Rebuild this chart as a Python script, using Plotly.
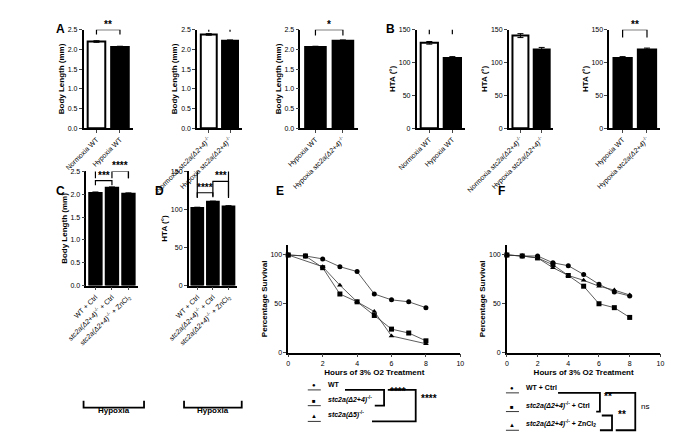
import plotly.graph_objects as go

W, H = 675, 442
D24 = "<i>stc2a(Δ2+4)</i><sup>-/-</sup>"
D5 = "<i>stc2a(Δ5)</i><sup>-/-</sup>"

# ---- bar data ----
a1_cats = ["Normoxia WT", "Hypoxia WT"]
a1_vals = [2.20, 2.06]
a1_err = [0.02, 0.02]
a2_cats = ["Normoxia " + D24, "Hypoxia " + D24]
a2_vals = [2.38, 2.22]
a2_err = [0.02, 0.02]
a3_cats = ["Hypoxia WT", "Hypoxia " + D24]
a3_vals = [2.06, 2.22]
a3_err = [0.02, 0.02]
b1_vals = [130, 107]
b1_err = [2, 2]
b2_vals = [141, 120]
b2_err = [3, 3]
b3_vals = [107, 120]
b3_err = [2, 2]
cd_cats = ["WT + Ctrl", D24 + " + Ctrl", D24 + " + ZnCl<sub>2</sub>"]
c_vals = [2.03, 2.14, 2.01]
c_err = [0.02, 0.02, 0.02]
d_vals = [102, 110, 104]
d_err = [1, 1, 1]

# ---- survival data ----
e_wt_h = [0, 1, 2, 3, 4, 5, 6, 7, 8]
e_wt = [100, 99, 96, 88, 83, 60, 54, 52, 46]
e_d24_h = [0, 1, 2, 3, 4, 5, 6, 7, 8]
e_d24 = [100, 99, 87, 60, 52, 38, 24, 20, 12]
e_d5_h = [0, 2, 3, 4, 5, 6, 8]
e_d5 = [100, 88, 69, 52, 42, 17, 9]
f_h = [0, 1, 2, 3, 4, 5, 6, 7, 8]
f_wt = [100, 99, 99, 92, 89, 80, 70, 62, 58]
f_ctrl = [100, 99, 97, 90, 79, 68, 50, 46, 36]
f_zn = [100, 99, 97, 87, 79, 74, 68, 64, 59]

FONT = "Arial, Liberation Sans, sans-serif"
fig = go.Figure()
layout = {}
shapes = []
ann = []


def px(x):
    return x / W


def py(y):
    return 1 - y / H


def add_axes(i, xr, yr, ytitle, yrange, ydtick):
    layout[f"xaxis{i}"] = dict(domain=[px(xr[0]), px(xr[1])], anchor=f"y{i}",
                               showline=True, linecolor="black", linewidth=1.5,
                               ticks="outside", ticklen=3, tickfont=dict(size=7, family=FONT),
                               showgrid=False, zeroline=False)
    layout[f"yaxis{i}"] = dict(domain=[py(yr[1]), py(yr[0])], anchor=f"x{i}",
                               range=yrange, dtick=ydtick, showline=True, linecolor="black",
                               linewidth=1.5, ticks="outside", ticklen=3,
                               tickfont=dict(size=7, family=FONT), showgrid=False, zeroline=False,
                               title=dict(text="<b>" + ytitle + "</b>", font=dict(size=8), standoff=2))


def bars(i, cats, vals, err, fills):
    fig.add_trace(go.Bar(x=list(range(len(cats))), y=vals, xaxis=f"x{i}", yaxis=f"y{i}",
                         marker=dict(color=fills, line=dict(color="black", width=2)),
                         error_y=dict(type="data", array=err, color="black", thickness=1, width=3),
                         width=0.75, showlegend=False))
    layout[f"xaxis{i}"].update(tickmode="array", tickvals=list(range(len(cats))), ticktext=cats,
                               tickangle=-45, range=[-0.55, len(cats) - 0.45])


def bracket(i, x0, x1, y, drop, text, tsize=10):
    xr, yr = f"x{i}", f"y{i}"
    shapes.append(dict(type="path", xref=xr, yref=yr,
                       path=f"M {x0} {y - drop} L {x0} {y} L {x1} {y} L {x1} {y - drop}",
                       line=dict(color="black", width=1.2)))
    ann.append(dict(x=(x0 + x1) / 2, y=y, xref=xr, yref=yr,
                    text="<b>" + text + "</b>" if text != "ns" else text,
                    showarrow=False, yanchor="bottom", font=dict(size=tsize), yshift=-2))


top = (18, 118)
specs = [
    (1, (35, 88), top, "Body Length (mm)", [0, 2.5], 0.5, a1_cats, a1_vals, a1_err, ["white", "black"]),
    (2, (157, 205), top, "Body Length (mm)", [0, 2.5], 0.5, a2_cats, a2_vals, a2_err, ["white", "black"]),
    (3, (268, 330), top, "Body Length (mm)", [0, 2.5], 0.5, a3_cats, a3_vals, a3_err, ["black", "black"]),
    (4, (393, 445), top, "HTA (°)", [0, 150], 50, a1_cats, b1_vals, b1_err, ["white", "black"]),
    (5, (492, 540), top, "HTA (°)", [0, 150], 50, a2_cats, b2_vals, b2_err, ["white", "black"]),
    (6, (600, 655), top, "HTA (°)", [0, 150], 50, a3_cats, b3_vals, b3_err, ["black", "black"]),
    (7, (38, 93), (162, 278), "Body Length (mm)", [0, 2.5], 0.5, cd_cats, c_vals, c_err, ["black"] * 3),
    (8, (148, 200), (162, 278), "HTA (°)", [0, 150], 50, cd_cats, d_vals, d_err, ["black"] * 3),
]
for i, xr, yr, t, rng, dt, cats, vals, err, fills in specs:
    add_axes(i, xr, yr, t, rng, dt)
    bars(i, cats, vals, err, fills)
    if rng[1] < 10:
        layout[f"yaxis{i}"]["tickformat"] = ".1f"

bracket(1, 0, 1, 2.5, 0.12, "**")
bracket(2, 0, 1, 2.6, 0.15, "***")
bracket(3, 0, 1, 2.5, 0.15, "*")
bracket(4, 0, 1, 155, 12, "****")
bracket(5, 0, 1, 165, 12, "****")
bracket(6, 0, 1, 150, 12, "**")
bracket(7, 0, 1, 2.3, 0.1, "***")
bracket(7, 1, 2, 2.5, 0.15, "****")
bracket(7, 0, 2, 2.75, 0.4, "ns")
bracket(8, 0, 1, 122, 6, "****")
bracket(8, 1, 2, 137, 20, "***")
bracket(8, 0, 2, 155, 40, "ns")

# ---- survival panels ----
for i, xr in ((9, (255, 440)), (10, (490, 655))):
    add_axes(i, xr, (237, 346), "Percentage Survival", [0, 110], 50)
    layout[f"xaxis{i}"].update(range=[0, 10], dtick=2,
                               title=dict(text="<b>Hours of 3% O2 Treatment</b>", font=dict(size=8), standoff=4))
    layout[f"yaxis{i}"]["tickvals"] = [0, 50, 100]


def line(i, h, v, sym):
    fig.add_trace(go.Scatter(x=h, y=v, xaxis=f"x{i}", yaxis=f"y{i}", mode="lines+markers",
                             line=dict(color="#333", width=0.8),
                             marker=dict(symbol=sym, size=5, color="black"), showlegend=False,
                             cliponaxis=False))


line(9, e_wt_h, e_wt, "circle")
line(9, e_d24_h, e_d24, "square")
line(9, e_d5_h, e_d5, "triangle-up")
line(10, f_h, f_wt, "circle")
line(10, f_h, f_ctrl, "square")
line(10, f_h, f_zn, "triangle-up")


def pline(pts, w=1.8):
    path = "M " + " L ".join(f"{px(x)} {py(y)}" for x, y in pts)
    shapes.append(dict(type="path", xref="paper", yref="paper", path=path, line=dict(color="black", width=w)))


def ptext(x, y, t, size=8, anchor="left"):
    ann.append(dict(x=px(x), y=py(y), xref="paper", yref="paper", text=t, showarrow=False,
                    xanchor=anchor, font=dict(size=size, family=FONT)))


def legend_key(x, y, glyph):
    shapes.append(dict(type="line", xref="paper", yref="paper", x0=px(x - 7), x1=px(x + 7),
                       y0=py(y), y1=py(y), line=dict(color="black", width=0.8)))
    ptext(x, y, glyph, 6, "center")


# hypoxia bracket under C and D
for x0, x1 in ((35, 100), (143, 205)):
    pline([(x0, 395), (x0, 402), (x1, 402), (x1, 395)])
    ptext((x0 + x1) / 2, 412, "<b>Hypoxia</b>", 8, "center")

# E legend
for y, g in ((384, "●"), (400, "■"), (416, "▲")):
    legend_key(283, y, g)
ptext(296, 384, "<b>WT</b>", 7)
ptext(296, 400, "<b>" + D24 + "</b>", 7)
ptext(296, 416, "<b>" + D5 + "</b>", 7)
pline([(316, 384), (358, 384), (358, 400), (348, 400)])
ptext(362, 393, "<b>****</b>", 10)
pline([(362, 384), (392, 384), (392, 416), (345, 416)])
ptext(396, 400, "<b>****</b>", 10)

# F legend
for y, g in ((387, "●"), (406, "■"), (425, "▲")):
    legend_key(496, y, g)
ptext(508, 387, "<b>WT + Ctrl</b>", 7)
ptext(508, 406, "<b>" + D24 + " + Ctrl</b>", 7)
ptext(508, 425, "<b>" + D24 + " + ZnCl<sub>2</sub></b>", 7)
pline([(545, 387), (590, 387), (590, 406), (586, 406)])
ptext(592, 398, "<b>**</b>", 10)
pline([(592, 410), (603, 410), (603, 425), (590, 425)])
ptext(607, 417, "<b>**</b>", 10)
pline([(596, 387), (628, 387), (628, 425), (607, 425)])
ptext(632, 407, "ns", 8)

for t, x, y in (("A", 3, 8), ("B", 358, 8), ("C", 3, 182), ("D", 110, 182), ("E", 240, 182), ("F", 478, 182)):
    ptext(x, y, "<b>" + t + "</b>", 12)

fig.update_layout(width=W, height=H, margin=dict(l=0, r=0, t=0, b=0), plot_bgcolor="white",
                  paper_bgcolor="white", font=dict(family=FONT, color="black"),
                  shapes=shapes, annotations=ann, **layout)
fig.write_html("out.html")
